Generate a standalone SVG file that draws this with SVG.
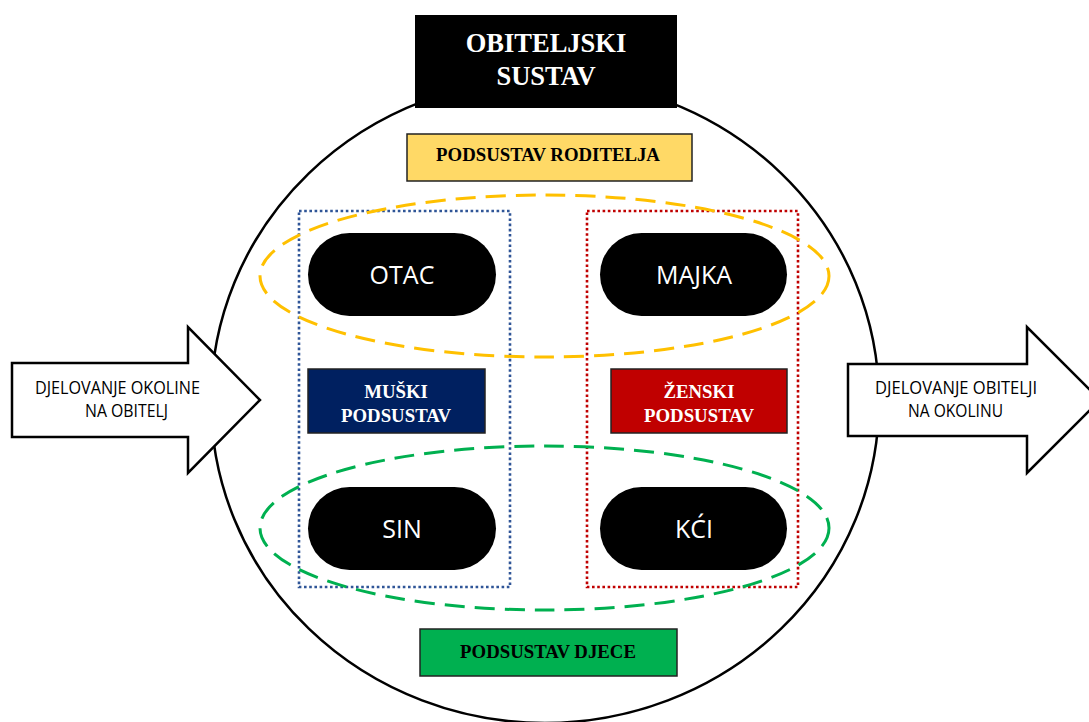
<svg xmlns="http://www.w3.org/2000/svg" width="1089" height="722" viewBox="0 0 1089 722">
<style>
.pill{fill:#000;}
.pt{font-family:"Open Sans","Noto Sans",sans-serif;font-size:25px;fill:#fff;text-anchor:middle;}
.bt{font-family:"Liberation Serif","Times New Roman",serif;font-weight:bold;text-anchor:middle;}
.at{font-family:"Open Sans","Noto Sans",sans-serif;font-size:17.5px;fill:#000;text-anchor:middle;}
.arrow{fill:#fff;stroke:#000;stroke-width:2.5;stroke-linejoin:miter;}
.box{stroke:#222;stroke-width:1.5;}
.dot{fill:none;stroke-width:2.6;stroke-dasharray:2.6 2.6;}
.dash{fill:none;stroke-width:3;stroke-dasharray:20 10;}
</style>
<rect x="0" y="0" width="1089" height="722" fill="#fff"/>
<g id="sustav">
<ellipse cx="545" cy="401" rx="334" ry="322" fill="#fff" stroke="#000" stroke-width="2.5"/>
</g>
<g id="arrow-left">
<polygon class="arrow" points="12,363 188,363 188,327 260,400 188,473 188,437 12,437"/>
<text class="at" x="117.5" y="394" textLength="165" lengthAdjust="spacingAndGlyphs">DJELOVANJE OKOLINE</text>
<text class="at" x="126.5" y="417" textLength="83" lengthAdjust="spacingAndGlyphs">NA OBITELJ</text>
</g>
<g id="arrow-right">
<polygon class="arrow" points="848,364 1027,364 1027,327 1100,400 1027,473 1027,436 848,436"/>
<text class="at" x="956" y="394" textLength="162" lengthAdjust="spacingAndGlyphs">DJELOVANJE OBITELJI</text>
<text class="at" x="955.5" y="417" textLength="95" lengthAdjust="spacingAndGlyphs">NA OKOLINU</text>
</g>
<g id="title">
<rect x="415" y="15" width="262" height="93" fill="#000"/>
<text class="bt" x="546" y="52" font-size="26.5" fill="#fff">OBITELJSKI</text>
<text class="bt" x="546" y="85" font-size="26.5" fill="#fff">SUSTAV</text>
</g>
<g id="podsustav-roditelja">
<rect class="box" x="407" y="134" width="285" height="47" fill="#FFD966"/>
<text class="bt" x="548" y="161" font-size="18.8" fill="#000">PODSUSTAV RODITELJA</text>
</g>
<g id="muski-okvir">
<rect class="dot" x="299" y="211" width="211" height="376" stroke="#2F5597"/>
</g>
<g id="zenski-okvir">
<rect class="dot" x="587" y="211" width="211" height="376" stroke="#C00000"/>
</g>
<g id="roditelji-elipsa">
<ellipse class="dash" cx="544.5" cy="276" rx="284.5" ry="81" stroke="#FFC000"/>
</g>
<g id="djeca-elipsa">
<ellipse class="dash" cx="544.5" cy="528" rx="284.5" ry="82" stroke="#00B050"/>
</g>
<g id="otac">
<rect class="pill" x="308" y="233" width="188" height="83" rx="41.5"/>
<text class="pt" x="402" y="284">OTAC</text>
</g>
<g id="majka">
<rect class="pill" x="600" y="233" width="187" height="83" rx="41.5"/>
<text class="pt" x="694" y="284">MAJKA</text>
</g>
<g id="sin">
<rect class="pill" x="308" y="487" width="188" height="83" rx="41.5"/>
<text class="pt" x="402" y="538">SIN</text>
</g>
<g id="kci">
<rect class="pill" x="600" y="487" width="187" height="83" rx="41.5"/>
<text class="pt" x="694" y="538">KĆI</text>
</g>
<g id="muski-podsustav">
<rect class="box" x="308" y="369" width="177" height="64" fill="#002060"/>
<text class="bt" x="396" y="398" font-size="18.8" fill="#fff">MUŠKI</text>
<text class="bt" x="396" y="422" font-size="18.8" fill="#fff">PODSUSTAV</text>
</g>
<g id="zenski-podsustav">
<rect class="box" x="611" y="369" width="176" height="64" fill="#C00000"/>
<text class="bt" x="699" y="398" font-size="18.8" fill="#fff">ŽENSKI</text>
<text class="bt" x="699" y="422" font-size="18.8" fill="#fff">PODSUSTAV</text>
</g>
<g id="podsustav-djece">
<rect class="box" x="420" y="629" width="257" height="47" fill="#00B050"/>
<text class="bt" x="548" y="658" font-size="18.8" fill="#000">PODSUSTAV DJECE</text>
</g>
<g id="connectors"></g>
</svg>
